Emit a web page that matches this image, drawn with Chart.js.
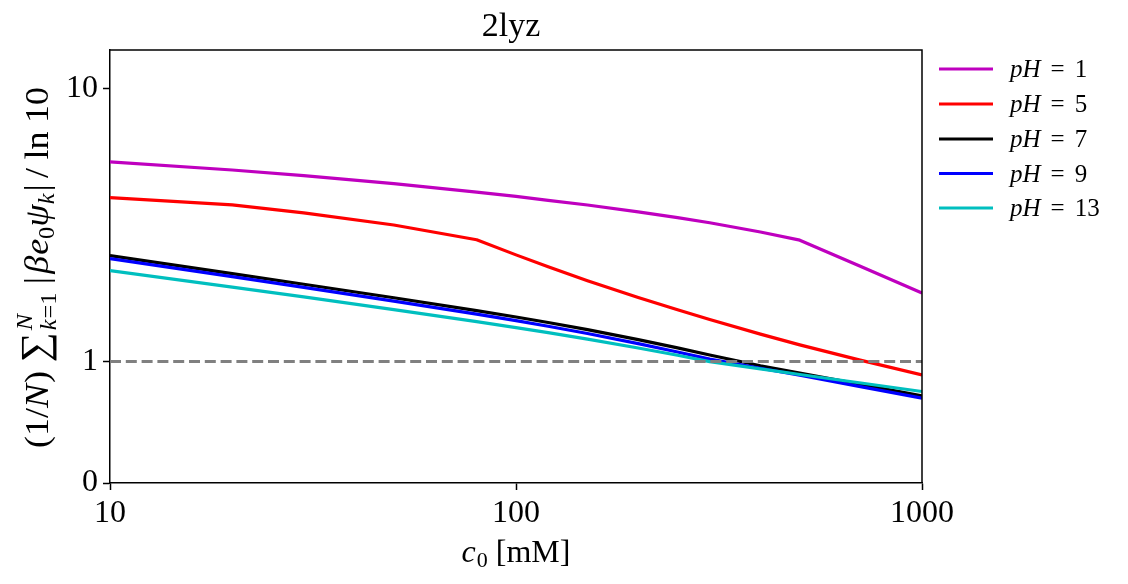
<!DOCTYPE html>
<html>
<head>
<meta charset="utf-8">
<script src="https://cdn.jsdelivr.net/npm/chart.js@4/dist/chart.umd.min.js"></script>
<style>
html,body{margin:0;padding:0;background:#fff;}
#c{display:block;}
</style>
</head>
<body>
<canvas id="c" width="1128" height="584"></canvas>
<script>
// ---- data ----
const concentrations = [10, 20, 30, 50, 80, 100, 120, 150, 200, 250, 300, 400, 500, 700, 1000];
const ph1  = [5.376, 5.02, 4.79, 4.48, 4.17, 4.02, 3.89, 3.74, 3.53, 3.36, 3.22, 2.977, 2.78, 2.24, 1.78];
const ph5  = [3.98, 3.74, 3.50, 3.16, 2.79, 2.456, 2.222, 1.976, 1.716, 1.546, 1.424, 1.26, 1.151, 1.014, 0.89];
const ph7  = [2.44, 2.097, 1.918, 1.712, 1.535, 1.455, 1.389, 1.308, 1.203, 1.122, 1.057, 0.965, 0.905, 0.815, 0.717];
const ph9  = [2.38, 2.045, 1.868, 1.663, 1.491, 1.411, 1.346, 1.266, 1.163, 1.084, 1.020, 0.945, 0.887, 0.796, 0.698];
const ph13 = [2.15, 1.872, 1.723, 1.548, 1.399, 1.331, 1.276, 1.207, 1.121, 1.054, 0.999, 0.939, 0.893, 0.825, 0.753];
const seriesLabels = ['1', '5', '7', '9', '13'];
const seriesColors = ['#bf00bf', '#ff0000', '#000000', '#0000ff', '#00bfbf'];
const xTicks = [10, 100, 1000];
const yTicks = [0, 1, 10];
const refLevel = 1;
const titleText = '2lyz';

// ---- symlog scale (linthresh 1, linscale 0.4) ----
const LINLEN = 0.4 / (1 - 1 / 10);
function tf(v) { return v <= 1 ? v * LINLEN : LINLEN + Math.log10(v); }
function itf(t) { return t <= LINLEN ? t / LINLEN : Math.pow(10, t - LINLEN); }
class SymlogScale extends Chart.LinearScale {
  buildTicks() { return yTicks.map(v => ({ value: v })); }
  configure() { super.configure(); this._t0 = tf(this.min); this._t1 = tf(this.max); }
  getPixelForValue(v) { return this.getPixelForDecimal((tf(v) - this._t0) / (this._t1 - this._t0)); }
  getValueForPixel(p) { return itf(this._t0 + this.getDecimalForPixel(p) * (this._t1 - this._t0)); }
}
SymlogScale.id = 'symlog';
SymlogScale.defaults = Chart.LinearScale.defaults;
Chart.register(SymlogScale);

const SERIF = "'Liberation Serif', 'DejaVu Serif', serif";
Chart.defaults.font.family = SERIF;
Chart.defaults.color = '#000';

function pts(arr) { return concentrations.map((x, i) => ({ x: x, y: arr[i] })); }
const allSeries = [ph1, ph5, ph7, ph9, ph13];
const datasets = allSeries.map((s, i) => ({
  label: 'pH = ' + seriesLabels[i],
  data: pts(s),
  borderColor: seriesColors[i],
  backgroundColor: seriesColors[i],
  borderWidth: 3.2,
  pointRadius: 0,
  tension: 0,
  borderJoinStyle: 'round',
  order: 10 - i
}));
datasets.push({
  label: 'ref',
  data: [{ x: xTicks[0], y: refLevel }, { x: xTicks[xTicks.length - 1], y: refLevel }],
  borderColor: '#808080',
  borderWidth: 3,
  borderDash: [11, 4.8],
  pointRadius: 0,
  order: 0
});

function drawParts(ctx, parts, x, y) {
  let cx = x;
  for (const p of parts) {
    if (p.stack) {
      let w = 0;
      for (const q of p.stack) { ctx.font = q.font; w = Math.max(w, (q.dx || 0) + ctx.measureText(q.t).width); }
      for (const q of p.stack) { ctx.font = q.font; ctx.fillText(q.t, cx + (q.dx || 0), y + q.dy); }
      cx += w + (p.after || 0);
    } else {
      ctx.font = p.font;
      ctx.fillText(p.t, cx, y + (p.dy || 0));
      cx += ctx.measureText(p.t).width + (p.after || 0);
    }
  }
  return cx - x;
}
function measureParts(ctx, parts) {
  let w = 0;
  for (const p of parts) {
    if (p.stack) {
      let m = 0;
      for (const q of p.stack) { ctx.font = q.font; m = Math.max(m, (q.dx || 0) + ctx.measureText(q.t).width); }
      w += m + (p.after || 0);
    } else { ctx.font = p.font; w += ctx.measureText(p.t).width + (p.after || 0); }
  }
  return w;
}

const decor = {
  id: 'decor',
  afterDraw(chart) {
    const ctx = chart.ctx;
    const a = chart.chartArea;
    ctx.save();
    ctx.strokeStyle = '#000';
    ctx.lineWidth = 1.5;
    ctx.beginPath();
    ctx.moveTo(a.left, a.top); ctx.lineTo(a.right, a.top); ctx.lineTo(a.right, a.bottom);
    ctx.stroke();
    ctx.fillStyle = '#000';
    ctx.textBaseline = 'alphabetic';
    // title
    ctx.font = '34px ' + SERIF;
    ctx.textAlign = 'center';
    ctx.fillText(titleText, (a.left + a.right) / 2 - 5, 36);
    ctx.textAlign = 'left';
    // x label
    const N = '32px ' + SERIF, I = 'italic 32px ' + SERIF, S = '22px ' + SERIF;
    const xl = [{ t: 'c', font: I, after: 1 }, { t: '0', font: S, dy: 5, after: 8 }, { t: '[mM]', font: N }];
    const xw = measureParts(ctx, xl);
    drawParts(ctx, xl, (a.left + a.right) / 2 - xw / 2, 562);
    // y label (rotated)
    const YN = '34px ' + SERIF, YI = 'italic 34px ' + SERIF, YS = '23px ' + SERIF, YSI = 'italic 23px ' + SERIF;
    const yl = [
      { t: '(1/', font: YN }, { t: 'N', font: YI, after: 1 }, { t: ')', font: YN, after: 8 },
      { t: '\u2211', font: '40px ' + SERIF, after: 2 },
      { stack: [{ t: 'N', font: YSI, dy: -16 }, { t: 'k', font: YSI, dy: 8 }, { t: '=1', font: YS, dy: 8, dx: 11 }], after: 8 },
      { t: '|', font: YN, after: 3 }, { t: '\u03B2', font: YI, after: 1 }, { t: 'e', font: YI }, { t: '0', font: YS, dy: 6 },
      { t: '\u03C8', font: YI }, { t: 'k', font: YSI, dy: 6, after: 2 }, { t: '|', font: YN, after: 6 },
      { t: '/', font: YN, after: 8 }, { t: 'ln', font: YN, after: 8 }, { t: '10', font: YN }
    ];
    const yw = measureParts(ctx, yl);
    const target = 361;
    ctx.save();
    ctx.translate(48, (a.top + a.bottom) / 2 + 1);
    ctx.rotate(-Math.PI / 2);
    ctx.scale(target / yw, 1);
    drawParts(ctx, yl, -yw / 2, 0);
    ctx.restore();
    // legend
    const rowY = [69, 104, 139, 173.5, 208];
    for (let i = 0; i < seriesLabels.length; i++) {
      const y = rowY[i];
      ctx.strokeStyle = seriesColors[i];
      ctx.lineWidth = 3.2;
      ctx.beginPath(); ctx.moveTo(a.right + 17, y); ctx.lineTo(a.right + 71, y); ctx.stroke();
      const lp = [{ t: 'pH', font: 'italic 25px ' + SERIF, after: 10 }, { t: '=', font: '25px ' + SERIF, after: 10 }, { t: seriesLabels[i], font: '25px ' + SERIF }];
      drawParts(ctx, lp, a.right + 88, y + 8);
    }
    ctx.restore();
  }
};

new Chart(document.getElementById('c'), {
  type: 'line',
  data: { datasets: datasets },
  options: {
    responsive: false,
    animation: false,
    events: [],
    layout: { padding: { top: 50, right: 206, left: 0, bottom: 0 } },
    plugins: { legend: { display: false }, tooltip: { enabled: false }, title: { display: false } },
    scales: {
      x: {
        type: 'logarithmic', min: 10, max: 1000,
        afterBuildTicks: s => { s.ticks = xTicks.map(v => ({ value: v })); },
        afterFit: s => { s.height = 101; },
        grid: { drawOnChartArea: false, drawTicks: true, tickLength: 7, color: '#000', tickWidth: 1.5 },
        border: { display: true, color: '#000', width: 1.5 },
        ticks: { autoSkip: false, maxRotation: 0, padding: 4, font: { size: 32 }, color: '#000', callback: v => String(v) }
      },
      y: {
        type: 'symlog', min: 0, max: 13.8,
        afterFit: s => { s.width = 110; },
        grid: { drawOnChartArea: false, drawTicks: true, tickLength: 7, color: '#000', tickWidth: 1.5 },
        border: { display: true, color: '#000', width: 1.5 },
        ticks: { autoSkip: false, padding: 5, font: { size: 32 }, color: '#000', callback: v => String(v) }
      }
    }
  },
  plugins: [decor]
});
</script>
</body>
</html>
